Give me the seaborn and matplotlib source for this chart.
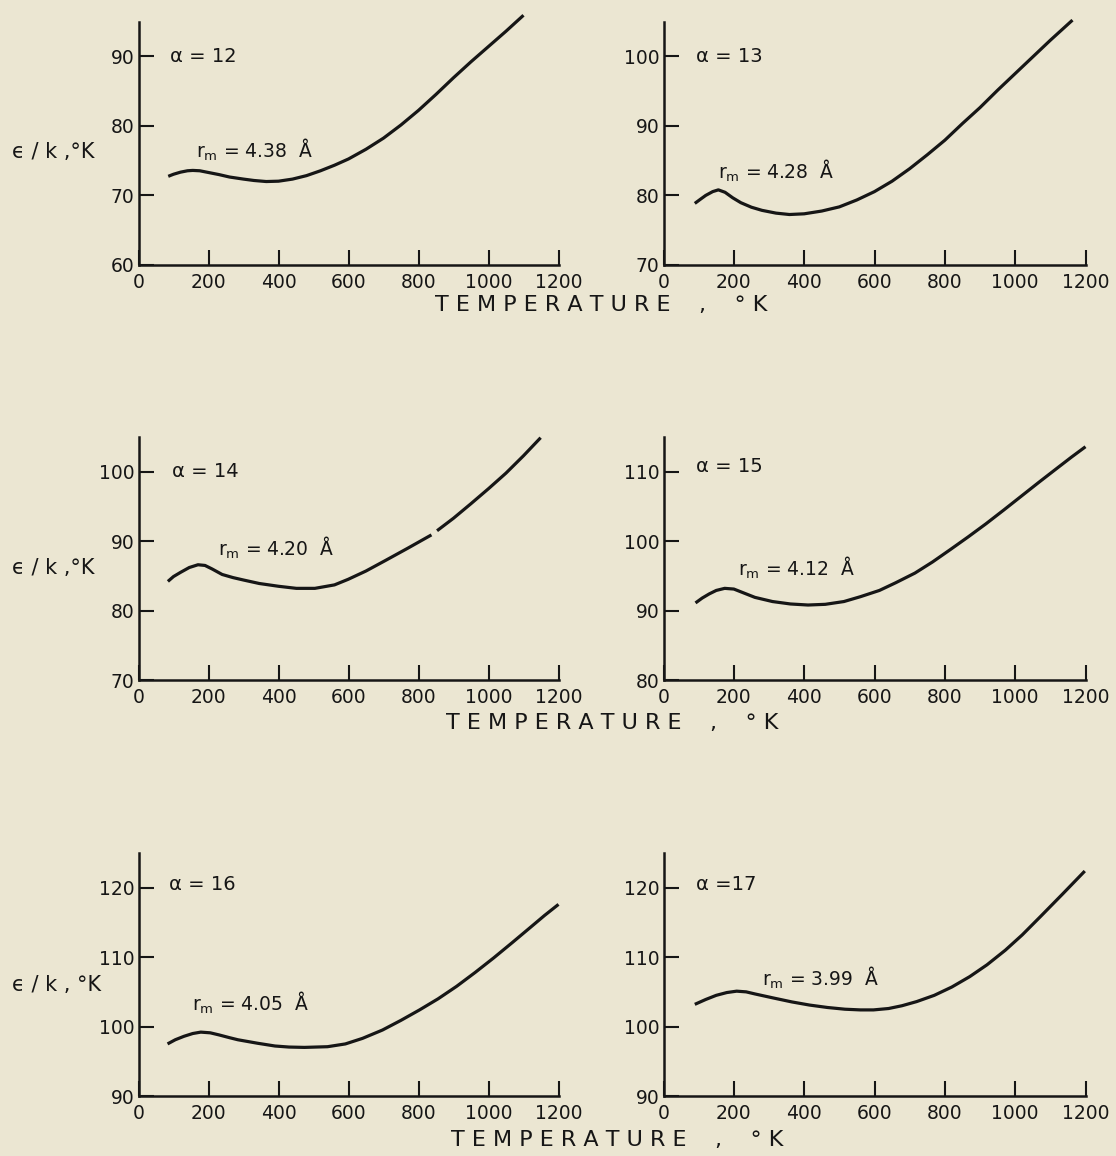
import matplotlib
matplotlib.use("Agg")
import matplotlib.pyplot as plt
import pandas as pd
import seaborn as sns

# Well depth epsilon/k versus temperature for exp-6 potentials, alpha = 12 ... 17
temp_a12 = [85, 100, 120, 140, 155, 175, 200, 230, 260, 300, 330, 365, 400, 440, 480, 520, 560, 600,
            650, 700, 750, 800, 850, 900, 950, 1000, 1050, 1100]
eps_a12 = [72.7, 73.0, 73.3, 73.5, 73.55, 73.5, 73.25, 72.95, 72.6, 72.3, 72.1, 71.95, 72.0, 72.3, 72.8,
           73.5, 74.3, 75.2, 76.6, 78.2, 80.1, 82.2, 84.5, 86.9, 89.2, 91.4, 93.6, 95.9]

temp_a13 = [89, 105, 120, 140, 156, 175, 197, 220, 250, 280, 320, 358, 400, 450, 500, 550, 600, 650,
            700, 750, 800, 850, 900, 950, 1000, 1050, 1100, 1163]
eps_a13 = [78.8, 79.4, 79.95, 80.5, 80.75, 80.4, 79.6, 78.9, 78.25, 77.8, 77.4, 77.2, 77.3, 77.7, 78.3,
           79.3, 80.5, 82.0, 83.8, 85.8, 87.9, 90.3, 92.6, 95.1, 97.5, 99.9, 102.3, 105.2]

temp_a14 = [84, 100, 120, 145, 170, 190, 210, 239, 270, 300, 345, 400, 451, 504, 560, 599, 650, 705,
            770, 837,
            853, 900, 950, 1001, 1050, 1100, 1149]
eps_a14 = [84.2, 84.9, 85.5, 86.2, 86.6, 86.5, 86.0, 85.2, 84.75, 84.4, 83.9, 83.5, 83.2, 83.2, 83.7,
           84.5, 85.7, 87.2, 89.0, 90.9,
           91.5, 93.3, 95.4, 97.6, 99.8, 102.3, 104.9]
# the alpha = 14 trace is broken into two strokes
piece_a14 = [0] * 20 + [1] * 7

temp_a15 = [91, 110, 130, 150, 174, 200, 230, 260, 310, 361, 411, 460, 513, 560, 614, 660, 715, 765,
            816, 866, 917, 968, 1018, 1068, 1119, 1160, 1200]
eps_a15 = [91.1, 91.8, 92.4, 92.9, 93.2, 93.1, 92.5, 91.9, 91.3, 90.95, 90.8, 90.9, 91.3, 92.0, 92.9,
           94.0, 95.4, 97.0, 98.8, 100.6, 102.5, 104.5, 106.5, 108.5, 110.5, 112.1, 113.6]

temp_a16 = [83, 105, 130, 155, 178, 205, 230, 260, 284, 340, 390, 430, 474, 540, 591, 640, 697, 750,
            803, 856, 909, 962, 1015, 1068, 1120, 1160, 1200]
eps_a16 = [97.5, 98.1, 98.6, 99.0, 99.2, 99.1, 98.8, 98.4, 98.1, 97.6, 97.2, 97.05, 97.0, 97.1, 97.5,
           98.3, 99.5, 100.9, 102.4, 104.0, 105.8, 107.8, 109.9, 112.1, 114.3, 116.0, 117.6]

temp_a17 = [89, 120, 150, 180, 208, 235, 260, 314, 365, 415, 466, 516, 560, 597, 640, 678, 720, 770,
            820, 871, 920, 972, 1020, 1073, 1135, 1198]
eps_a17 = [103.2, 103.9, 104.5, 104.9, 105.1, 105.0, 104.7, 104.1, 103.55, 103.1, 102.75, 102.5, 102.4,
           102.4, 102.6, 103.0, 103.6, 104.5, 105.7, 107.2, 108.9, 111.0, 113.2, 115.9, 119.1, 122.4]

alpha_labels = ["α = 12", "α = 13", "α = 14", "α = 15", "α = 16", "α =17"]
rm_values = ["4.38", "4.28", "4.20", "4.12", "4.05", "3.99"]
x_ticks = [0, 200, 400, 600, 800, 1000, 1200]
y_ticks = [[60, 70, 80, 90], [70, 80, 90, 100], [70, 80, 90, 100],
           [80, 90, 100, 110], [90, 100, 110, 120], [90, 100, 110, 120]]
y_axis_label = ["ϵ / k ,°K", "ϵ / k ,°K", "ϵ / k , °K"]
x_axis_label = "T E M P E R A T U R E    ,    ° K"

curves = [
    pd.DataFrame({"T": temp_a12, "eps": eps_a12, "piece": 0}),
    pd.DataFrame({"T": temp_a13, "eps": eps_a13, "piece": 0}),
    pd.DataFrame({"T": temp_a14, "eps": eps_a14, "piece": piece_a14}),
    pd.DataFrame({"T": temp_a15, "eps": eps_a15, "piece": 0}),
    pd.DataFrame({"T": temp_a16, "eps": eps_a16, "piece": 0}),
    pd.DataFrame({"T": temp_a17, "eps": eps_a17, "piece": 0}),
]

# layout: axes rectangles (figure pixels) and label anchors (data units)
W, H = 1116, 1156
col_left = [138.5, 663.5]
col_width = [420, 422]
row_bottom = [264.5, 680, 1096]
ax_height = 243
span = 35
alpha_pos = [(90, 90), (92, 100), (96, 100), (92, 110.8), (88, 120.4), (92, 120.4)]
rm_pos = [(164, 76.5), (156, 83.5), (228, 89.0), (213, 96.1), (153, 103.4), (281, 107.0)]
xlabel_center = [601, 612, 617]
xlabel_y = [305, 723, 1140]
ylabel_y = [152, 568, 985]

paper = "#ebe6d2"
ink = "#161616"

sns.set_theme(style="ticks")
plt.rcParams["font.family"] = ["DejaVu Sans"]
plt.rcParams["text.color"] = ink
plt.rcParams["axes.edgecolor"] = ink
plt.rcParams["xtick.color"] = ink
plt.rcParams["ytick.color"] = ink
plt.rcParams["mathtext.default"] = "regular"

fig = plt.figure(figsize=(W / 100, H / 100), dpi=100, facecolor=paper)

for i, df in enumerate(curves):
    r, c = divmod(i, 2)
    left = col_left[c] / W
    bottom = 1 - row_bottom[r] / H
    ax = fig.add_axes([left, bottom, col_width[c] / W, ax_height / H])
    ax.set_facecolor(paper)

    sns.lineplot(data=df, x="T", y="eps", units="piece", estimator=None,
                 color=ink, linewidth=2.3, ax=ax, legend=False)
    for ln in ax.lines:
        ln.set_clip_on(False)
        ln.set_solid_capstyle("butt")
        ln.set_solid_joinstyle("round")

    ymin = y_ticks[i][0]
    ax.set_xlim(0, 1200)
    ax.set_ylim(ymin, ymin + span)
    ax.set_xticks(x_ticks)
    ax.set_yticks(y_ticks[i])
    ax.set_xticklabels([str(t) for t in x_ticks])
    ax.set_yticklabels([str(t) for t in y_ticks[i]])
    ax.set_xlabel("")
    ax.set_ylabel("")
    for side in ("top", "right"):
        ax.spines[side].set_visible(False)
    for side in ("left", "bottom"):
        ax.spines[side].set_linewidth(1.8)
    ax.tick_params(axis="both", direction="in", length=11, width=1.5, labelsize=13.5)
    ax.tick_params(axis="x", pad=6)
    ax.tick_params(axis="y", pad=3)

    ax.text(alpha_pos[i][0], alpha_pos[i][1], alpha_labels[i], fontsize=14,
            ha="left", va="center", color=ink)
    ax.text(rm_pos[i][0], rm_pos[i][1], "r$_m$ = " + rm_values[i] + "  Å", fontsize=13.5,
            ha="left", va="center", color=ink)

for r in range(3):
    fig.text(xlabel_center[r] / W, 1 - xlabel_y[r] / H, x_axis_label, fontsize=16,
             ha="center", va="center", color=ink)
    fig.text(12 / W, 1 - ylabel_y[r] / H, y_axis_label[r], fontsize=15,
             ha="left", va="center", color=ink)

fig.savefig("out.png", dpi=100, facecolor=paper)
